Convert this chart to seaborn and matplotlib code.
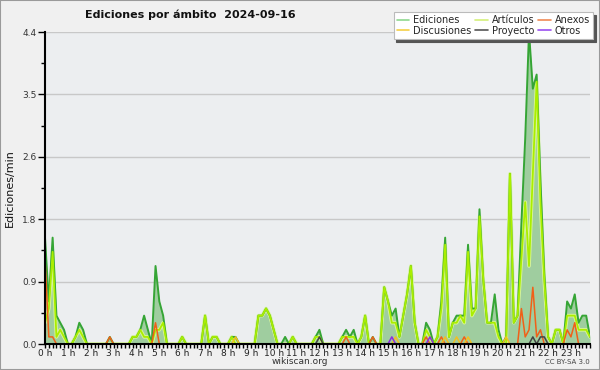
import numpy as np
import pandas as pd
import matplotlib
matplotlib.use("Agg")
import matplotlib.pyplot as plt
from matplotlib.lines import Line2D
from matplotlib.patches import Rectangle
import seaborn as sns

# 10-minute slots, 6 per hour (rows = hours 0..23)
ediciones = [
    1.5, 0.6, 1.5, 0.4, 0.3, 0.2,
    0, 0, 0.1, 0.3, 0.2, 0,
    0, 0, 0, 0, 0, 0.1,
    0, 0, 0, 0, 0, 0.1,
    0.1, 0.2, 0.4, 0.2, 0, 1.1,
    0.6, 0.4, 0, 0, 0, 0,
    0.1, 0, 0, 0, 0, 0,
    0.4, 0, 0.1, 0.1, 0, 0,
    0, 0.1, 0.1, 0, 0, 0,
    0, 0, 0.4, 0.4, 0.5, 0.4,
    0.2, 0, 0, 0.1, 0, 0.1,
    0, 0, 0, 0, 0, 0.1,
    0.2, 0, 0, 0, 0, 0,
    0.1, 0.2, 0.1, 0.2, 0, 0.1,
    0.4, 0, 0.1, 0, 0, 0.8,
    0.6, 0.4, 0.5, 0.1, 0.4, 0.7,
    1.1, 0.3, 0, 0, 0.3, 0.2,
    0, 0.1, 0.6, 1.5, 0.1, 0.3,
    0.4, 0.4, 0.4, 1.4, 0.5, 0.5,
    1.9, 0.9, 0.3, 0.3, 0.7, 0.2,
    0, 0.1, 2.4, 0.3, 0.4, 1.7,
    2.9, 4.4, 3.6, 3.8, 2.3, 1.0,
    0.1, 0, 0.2, 0.2, 0, 0.6,
    0.5, 0.7, 0.3, 0.4, 0.4, 0.1,
]
articulos = [
    0.3, 0.5, 1.3, 0.1, 0.2, 0.1,
    0, 0, 0.1, 0.2, 0.1, 0,
    0, 0, 0, 0, 0, 0,
    0, 0, 0, 0, 0, 0.1,
    0.1, 0.2, 0.1, 0.1, 0, 0.2,
    0.2, 0.3, 0, 0, 0, 0,
    0.1, 0, 0, 0, 0, 0,
    0.4, 0, 0.1, 0.1, 0, 0,
    0, 0.1, 0, 0, 0, 0,
    0, 0, 0.4, 0.4, 0.5, 0.4,
    0.2, 0, 0, 0, 0, 0.1,
    0, 0, 0, 0, 0, 0.1,
    0.1, 0, 0, 0, 0, 0,
    0.1, 0.1, 0.1, 0.1, 0, 0.1,
    0.4, 0, 0, 0, 0, 0.8,
    0.6, 0.3, 0.3, 0.1, 0.4, 0.7,
    1.1, 0.3, 0, 0, 0.2, 0.1,
    0, 0.1, 0.5, 1.4, 0.1, 0.3,
    0.3, 0.4, 0.3, 1.3, 0.4, 0.5,
    1.8, 0.9, 0.3, 0.3, 0.3, 0.1,
    0, 0, 2.4, 0.3, 0.4, 1.2,
    2.0, 1.1, 2.4, 3.7, 2.0, 0.9,
    0.1, 0, 0.2, 0.2, 0, 0.4,
    0.4, 0.4, 0.2, 0.2, 0.2, 0.1,
]
# sparse series: {slot: value}
anexos_pts = {0: 1.2, 1: 0.1, 2: 0.1, 17: 0.1, 29: 0.3, 79: 0.1, 86: 0.1,
              100: 0.1, 104: 0.1, 110: 0.1, 125: 0.5, 126: 0.1, 127: 0.2,
              128: 0.8, 129: 0.1, 130: 0.2, 137: 0.2, 138: 0.1, 139: 0.3}
discusiones_pts = {50: 0.1, 92: 0.1, 105: 0.1, 108: 0.1, 111: 0.1, 121: 0.1}
proyecto_pts = {72: 0.1, 128: 0.1, 130: 0.1, 131: 0.1}
otros_pts = {91: 0.1, 101: 0.1}

hour_labels = [f"{h} h" for h in range(24)]
y_ticks = [0.0, 0.88, 1.76, 2.64, 3.52, 4.4]
y_labels = ["0.0", "0.9", "1.8", "2.6", "3.5", "4.4"]

series_names = ["Ediciones", "Artículos", "Anexos", "Discusiones", "Proyecto", "Otros"]
colors = {
    "Ediciones": "#35a535",
    "Artículos": "#aaee00",
    "Anexos": "#f06018",
    "Discusiones": "#f2c020",
    "Proyecto": "#444444",
    "Otros": "#8a2be2",
}
legend_colors = {
    "Ediciones": "#8fd88f",
    "Artículos": "#d4f07a",
    "Anexos": "#f08a55",
    "Discusiones": "#f5cf45",
    "Proyecto": "#555555",
    "Otros": "#9b4ff0",
}

n = 144
def expand(pts):
    arr = [0.0] * n
    for k, v in pts.items():
        arr[k] = v
    return arr

slots = np.arange(n)
df = pd.DataFrame({
    "slot": slots,
    "Ediciones": ediciones,
    "Artículos": articulos,
    "Anexos": expand(anexos_pts),
    "Discusiones": expand(discusiones_pts),
    "Proyecto": expand(proyecto_pts),
    "Otros": expand(otros_pts),
})
long = df.melt(id_vars="slot", var_name="serie", value_name="valor")

sns.set_theme(style="white")
plt.rcParams["font.family"] = ["DejaVu Sans"]

fig = plt.figure(figsize=(6, 3.7), dpi=100, facecolor="#f0f0f0")
ax = fig.add_axes([45 / 600, 26 / 370, 545 / 600, 312 / 370])
ax.set_facecolor("#eceef0")

ax.fill_between(df["slot"], df["Ediciones"], color="#9fcd9f", linewidth=0, zorder=1)

# soft halo under the article line
sns.lineplot(data=df, x="slot", y="Artículos", ax=ax, color="#d8f59a",
             linewidth=2.6, estimator=None, legend=False, zorder=2)
sns.lineplot(data=long, x="slot", y="valor", hue="serie", hue_order=series_names,
             palette=colors, ax=ax, linewidth=1.1, estimator=None, legend=False,
             zorder=3)
for line in ax.lines[1:]:
    if line.get_color() == colors["Artículos"]:
        line.set_linewidth(1.3)
    if line.get_color() == colors["Ediciones"]:
        line.set_linewidth(1.4)

ax.set_xlim(0, n - 1)
ax.set_ylim(0, 4.4)
ax.set_xticks(np.arange(0, n, 6))
ax.set_xticklabels(hour_labels, fontsize=6.5, color="#222222")
ax.set_xticks(slots, minor=True)
ax.set_yticks(y_ticks)
ax.set_yticklabels(y_labels, fontsize=6.5, color="#333333")
ax.set_yticks([0.44, 1.32, 2.2, 3.08, 3.96], minor=True)
ax.tick_params(axis="x", which="both", direction="out", length=3, width=1,
               color="black", pad=0.5, bottom=True)
ax.tick_params(axis="y", which="major", direction="out", length=5, width=1,
               color="black", pad=1, left=True)
ax.tick_params(axis="y", which="minor", direction="out", length=3, width=1,
               color="black", left=True)
ax.grid(axis="y", which="major", color="#c8c8c8", linewidth=1)
ax.set_axisbelow(True)
for s in ["top", "right"]:
    ax.spines[s].set_visible(False)
for s in ["left", "bottom"]:
    ax.spines[s].set_color("black")
    ax.spines[s].set_linewidth(1.5)
    ax.spines[s].set_zorder(5)
ax.set_xlabel("")
ax.set_ylabel("Ediciones/min", fontsize=8, color="#111111", labelpad=5)

fig.text(85 / 600, 1 - 15 / 370, "Ediciones por ámbito  2024-09-16",
         fontsize=8, fontweight="bold", color="#111111", va="center", ha="left")
fig.text(300 / 600, 1 - 362 / 370, "wikiscan.org", fontsize=6.5,
         color="#333333", ha="center", va="center")
fig.text(590 / 600, 1 - 362 / 370, "CC BY-SA 3.0", fontsize=5,
         color="#444444", ha="right", va="center")

order = ["Ediciones", "Discusiones", "Artículos", "Proyecto", "Anexos", "Otros"]
handles = [Line2D([0], [0], color=legend_colors[k], linewidth=1.2) for k in order]
leg = fig.legend(handles, order, ncol=3, loc="upper right",
                 bbox_to_anchor=(593 / 600, 1 - 12 / 370), fontsize=7,
                 frameon=True, fancybox=False, shadow={"color": "#555555", "alpha": 1.0},
                 edgecolor="#bbbbbb", facecolor="white", framealpha=1,
                 handlelength=1.3, handletextpad=0.4, columnspacing=0.4,
                 labelspacing=0.1, borderpad=0.3, borderaxespad=0)
leg.get_frame().set_linewidth(0.8)

fig.patches.append(Rectangle((0, 0), 1, 1, transform=fig.transFigure,
                             fill=False, edgecolor="#9a9a9a", linewidth=1.5))

fig.savefig("out.png", dpi=100, facecolor=fig.get_facecolor())
